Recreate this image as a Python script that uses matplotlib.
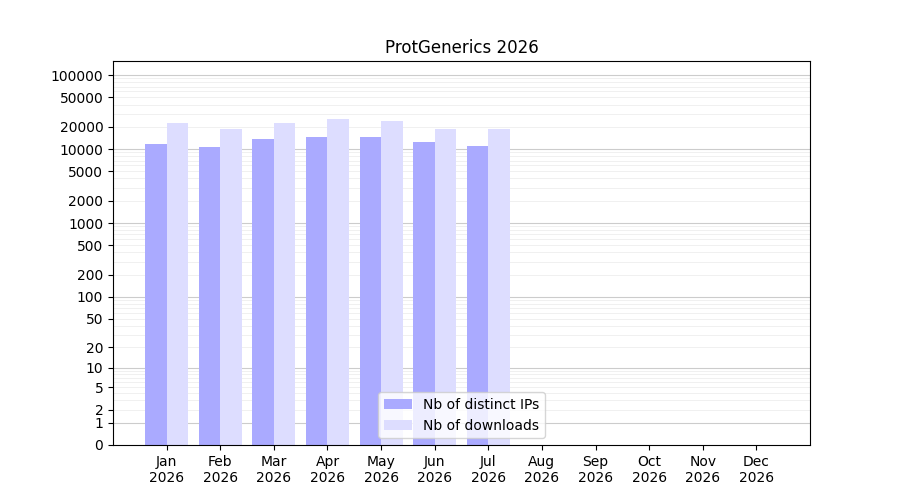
import numpy as np
import matplotlib
matplotlib.use('Agg')
import matplotlib.pyplot as plt

months = ['Jan', 'Feb', 'Mar', 'Apr', 'May', 'Jun', 'Jul', 'Aug', 'Sep', 'Oct', 'Nov', 'Dec']
ips = [11800, 10500, 13500, 14500, 14500, 12500, 11000, 0, 0, 0, 0, 0]
downloads = [22500, 18500, 22500, 25500, 24000, 18500, 18500, 0, 0, 0, 0, 0]

fig = plt.figure(figsize=(9, 5), dpi=100)
ax = fig.add_axes([113/900, 55/500, 697/900, 384/500])

x = np.arange(len(months))
ax.bar(x - 0.2, ips, width=0.4, color='#aaaaff', label='Nb of distinct IPs', zorder=2)
ax.bar(x + 0.2, downloads, width=0.4, color='#ddddff', label='Nb of downloads', zorder=2)

# echelle log(x+1)
ax.set_yscale('function', functions=(lambda v: np.log10(np.maximum(v, 0) + 1),
                                     lambda v: 10**v - 1))
ax.set_ylim(0, 155000)
ticks = [0, 1, 2, 5, 10, 20, 50, 100, 200, 500, 1000, 2000, 5000, 10000, 20000, 50000, 100000]
ax.set_yticks(ticks)
ax.set_yticklabels([str(t) for t in ticks])
minor = [m * 10**d for d in range(0, 6) for m in range(2, 10) if m * 10**d < 155000]
ax.set_yticks(minor, minor=True)
ax.tick_params(axis='y', which='minor', length=0)
for t in [1, 10, 100, 1000, 10000, 100000]:
    ax.axhline(t, color='#cccccc', lw=0.8, zorder=0)
for t in minor:
    ax.axhline(t, color='#eeeeee', lw=0.6, zorder=0)

ax.set_xticks(x)
ax.set_xticklabels([m + '\n2026' for m in months])
ax.set_xlim(-1, 12)
ax.set_title('ProtGenerics 2026')
ax.legend(loc='lower center')

fig.savefig('out.png')
